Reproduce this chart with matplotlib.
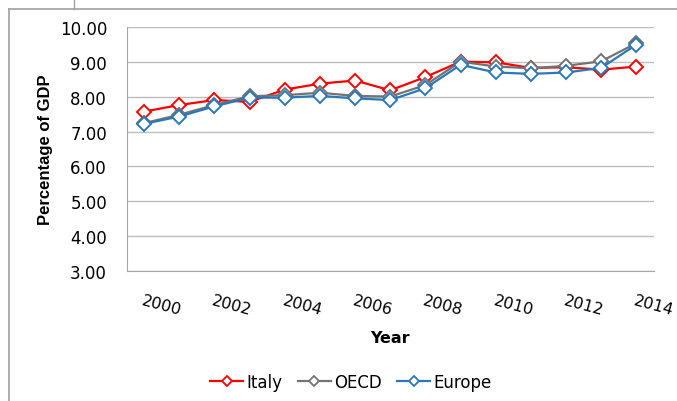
import numpy as np
import matplotlib
matplotlib.use('Agg')
import matplotlib.pyplot as plt
from matplotlib.lines import Line2D

# health spending as share of GDP, 2000-2014
years = list(range(2000, 2015))
italy = [7.57, 7.76, 7.90, 7.85, 8.20, 8.37, 8.46, 8.18, 8.56, 9.00, 8.98, 8.82, 8.84, 8.77, 8.86]
oecd = [7.24, 7.48, 7.76, 8.01, 8.04, 8.11, 8.02, 8.00, 8.33, 9.00, 8.86, 8.81, 8.88, 9.01, 9.53]
europe = [7.22, 7.43, 7.72, 7.97, 7.97, 8.02, 7.95, 7.90, 8.24, 8.91, 8.69, 8.65, 8.69, 8.82, 9.49]

series_names = ['Italy', 'OECD', 'Europe']
series_colors = ['#FF0000', '#737373', '#2A78BA']
yticks = [3.0, 4.0, 5.0, 6.0, 7.0, 8.0, 9.0, 10.0]

plt.rcParams['font.family'] = ['DejaVu Sans']

fig = plt.figure(figsize=(6.77, 4.02), dpi=100)
ax = fig.add_axes([126.5/677, 1-272.3/402, (654-126.5)/677, (272.3-27.7)/402])

x = np.arange(len(years))
for vals, name, col in zip([italy, oecd, europe], series_names, series_colors):
    ax.plot(x, vals, color=col, lw=1.6, marker='D', ms=7.5, mfc='white',
            mec=col, mew=1.4, label=name)

ax.set_xlim(-0.5, len(years)-0.5)
ax.set_ylim(3, 10)
ax.set_yticks(yticks)
ax.set_yticklabels(['%.2f' % v for v in yticks], fontsize=12)
ax.yaxis.grid(True, color='#BDBDBD', lw=1)
ax.set_axisbelow(True)

ax.set_xticks(x[::2])
ax.set_xticklabels([str(y) for y in years[::2]], fontsize=11.5, rotation=-15,
                   ha='left', va='top', rotation_mode='anchor')
ax.tick_params(axis='both', length=0)
ax.tick_params(axis='x', pad=15)
ax.tick_params(axis='y', pad=14)

for s in ['top', 'right']:
    ax.spines[s].set_visible(False)
ax.spines['left'].set_color('#A6A6A6')
ax.spines['bottom'].set_color('#A6A6A6')

ax.set_ylabel('Percentage of GDP', fontsize=12, fontweight='bold', labelpad=5,
              family='Liberation Sans')
ax.set_xlabel('Year', fontsize=11.5, fontweight='bold', labelpad=9)

handles = [Line2D([], [], color=c, lw=1.6, marker='D', ms=5.5, mfc='white', mec=c, mew=1.3)
           for c in series_colors]
fig.legend(handles, series_names, loc='center', bbox_to_anchor=(351/677, 1-383/402),
           ncol=3, frameon=False, fontsize=12, handlelength=2.0, handletextpad=0.2,
           columnspacing=0.9)

# chart frame edges
fig.add_artist(Line2D([8.5/677, 8.5/677], [0, 1-9.5/402], color='#A0A0A0', lw=1.2))
fig.add_artist(Line2D([8.5/677, 1], [1-9.5/402, 1-9.5/402], color='#A0A0A0', lw=1.2))
fig.add_artist(Line2D([74/677, 74/677], [1-9.5/402, 1], color='#A0A0A0', lw=1.0))

fig.savefig('out.png', dpi=100)
